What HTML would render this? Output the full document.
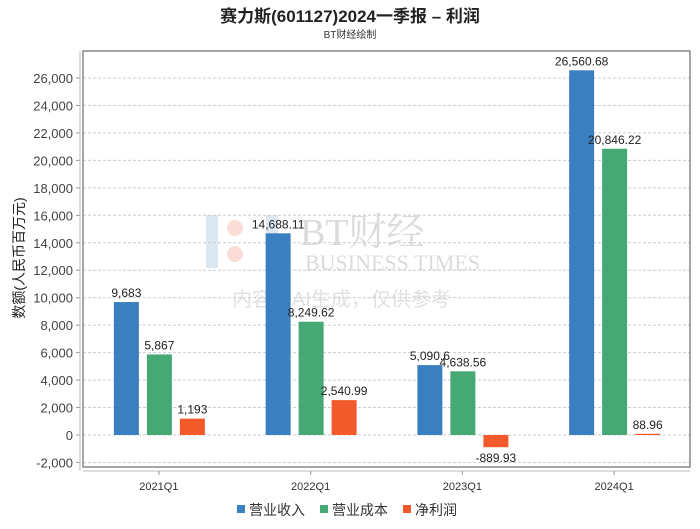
<!DOCTYPE html>
<html><head><meta charset="utf-8"><style>
body{margin:0;background:#fff;font-family:"Liberation Sans","Noto Sans CJK SC",sans-serif;}
</style></head><body>
<svg id="c" width="700" height="524" xmlns="http://www.w3.org/2000/svg" font-family="Liberation Sans, Noto Sans CJK SC, sans-serif">
<rect width="700" height="524" fill="#fff"/>
<text x="350" y="22" text-anchor="middle" font-size="17" font-weight="bold" fill="#222">赛力斯(601127)2024一季报 – 利润</text>
<text x="350" y="38" text-anchor="middle" font-size="10" fill="#333">BT财经绘制</text>
<g opacity="0.35">
<rect x="206" y="215" width="12" height="53" fill="#9bbbd8"/><rect x="266" y="215" width="12" height="53" fill="#9bbbd8"/>
<circle cx="235" cy="228" r="8" fill="#f2a08f"/><circle cx="235" cy="254" r="8" fill="#f2a08f"/>
<text x="300" y="245" font-size="38" font-family="Liberation Serif, Noto Serif CJK SC, serif" fill="#999">BT财经</text>
<text x="305" y="270" font-size="22" font-family="Liberation Serif, serif" fill="#999">BUSINESS TIMES</text>
<text x="232" y="306" font-size="20" fill="#aaa">内容由AI生成，仅供参考</text>
</g>
<g id="grid"></g>
<rect x="83" y="51" width="607" height="416" fill="none" stroke="#888" stroke-width="1.5"/>
<line x1="80" y1="51" x2="80" y2="471" stroke="#bbb"/>
<line x1="83" y1="471" x2="690" y2="471" stroke="#bbb"/>
<g id="bars"></g>
<text transform="translate(24,258) rotate(-90)" text-anchor="middle" font-size="14" fill="#222">数额(人民币百万元)</text>
<g font-size="14" fill="#333">
<rect x="237" y="505" width="8" height="8" fill="#3a80c0"/><text x="249" y="515">营业收入</text>
<rect x="320" y="505" width="8" height="8" fill="#45a875"/><text x="332" y="515">营业成本</text>
<rect x="403" y="505" width="8" height="8" fill="#f25a2b"/><text x="415" y="515">净利润</text>
</g>
</svg>
<script>
const categories=["2021Q1","2022Q1","2023Q1","2024Q1"];
const revenue=[9683,14688.11,5090.6,26560.68];
const cost=[5867,8249.62,4638.56,20846.22];
const profit=[1193,2540.99,-889.93,88.96];
const revLabels=["9,683","14,688.11","5,090.6","26,560.68"];
const costLabels=["5,867","8,249.62","4,638.56","20,846.22"];
const profitLabels=["1,193","2,540.99","-889.93","88.96"];
const yTicks=[-2000,0,2000,4000,6000,8000,10000,12000,14000,16000,18000,20000,22000,24000,26000];
const NS="http://www.w3.org/2000/svg";
const y=v=>435-v*(357/26000);
const band=607/categories.length;
const xc=i=>83+band*(i+0.5);
function mk(tag,attrs,parent,txt){const e=document.createElementNS(NS,tag);for(const k in attrs)e.setAttribute(k,attrs[k]);if(txt!==undefined)e.textContent=txt;parent.appendChild(e);return e;}
const grid=document.getElementById('grid'),bars=document.getElementById('bars');
yTicks.forEach(t=>{
 const l=mk('line',{x1:83,x2:690,y1:y(t),y2:y(t),stroke:'#ccc','stroke-dasharray':'3,2'},grid);
 
 
 const tx=mk('text',{x:73,y:y(t)+5,'text-anchor':'end','font-size':13,fill:'#444'},grid,t.toLocaleString('en-US'));
 
 
 mk('line',{x1:76,x2:80,y1:y(t),y2:y(t),stroke:'#999'},grid);
});
const series=[[revenue,revLabels,'#3a80c0','revenue'],[cost,costLabels,'#45a875','cost'],[profit,profitLabels,'#f25a2b','profit']];
categories.forEach((c,i)=>{
 const tl=mk('text',{x:xc(i),y:490,'text-anchor':'middle','font-size':11,fill:'#333'},bars,c);
 
 
 mk('line',{x1:xc(i),x2:xc(i),y1:471,y2:475,stroke:'#999'},bars);
 series.forEach((s,j)=>{
  const v=s[0][i];const x0=xc(i)-45+j*33;
  const top=Math.min(y(v),y(0)),h=Math.abs(y(v)-y(0));
  const r=mk('rect',{x:x0,y:top,width:25,height:Math.max(h,1),fill:s[2]},bars);
  
  
  const ly=v>=0?y(v)-5:y(v)+15;
  const t=mk('text',{x:x0+12.5,y:ly,'text-anchor':'middle','font-size':12,fill:'#222'},bars,s[1][i]);
  
  
 });
});
</script>
</body></html>
